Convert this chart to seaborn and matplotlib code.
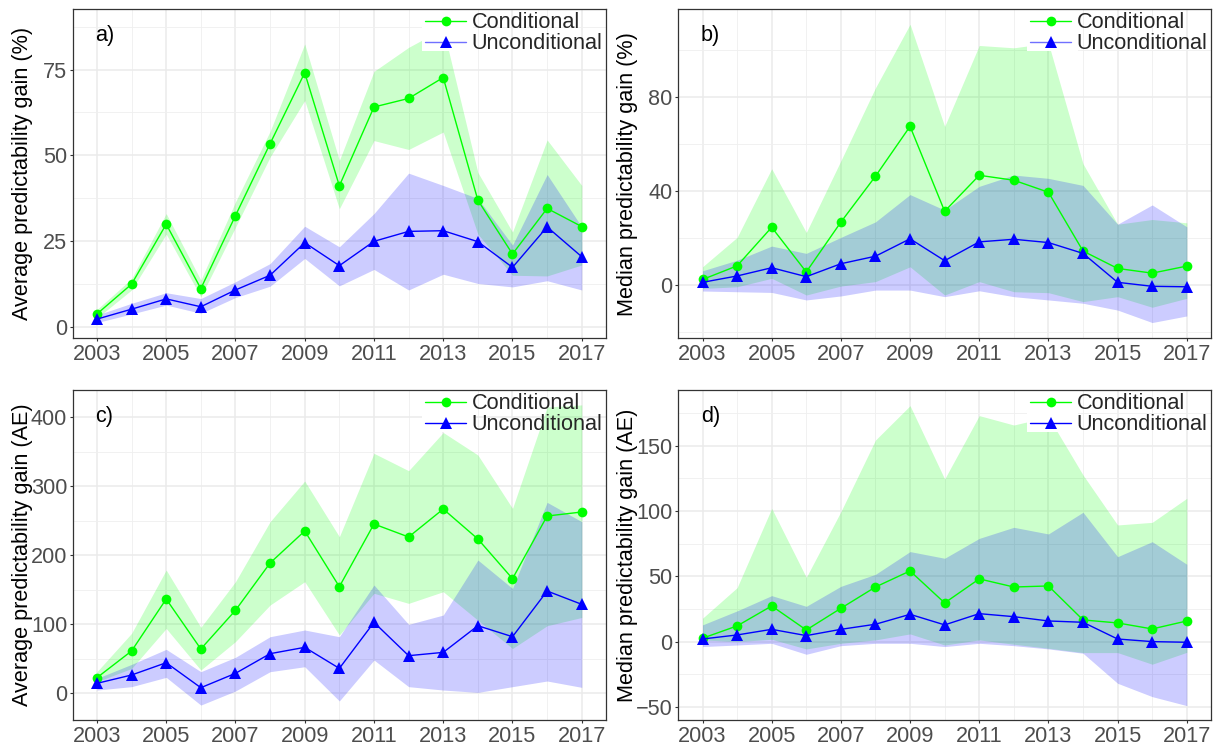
import matplotlib
matplotlib.use("Agg")
import matplotlib.pyplot as plt
from matplotlib.lines import Line2D
from matplotlib.patches import Rectangle
from matplotlib.ticker import MultipleLocator
import seaborn as sns
import numpy as np

# ---------------- data ----------------
years = list(range(2003, 2018))

a_cond    = [3.7, 12.4, 29.9, 11.1, 32.4, 53.4, 74.1, 41.1, 64.1, 66.6, 72.7, 36.9, 21.2, 34.5, 29.2]
a_cond_hi = [5.0, 14.0, 33.0, 13.6, 36.4, 57.0, 82.5, 48.5, 74.5, 81.5, 87.0, 45.0, 27.6, 54.5, 41.2]
a_cond_lo = [2.5, 10.7, 27.0, 8.7, 29.0, 49.5, 66.0, 34.4, 54.3, 51.7, 56.8, 27.0, 15.0, 14.8, 18.0]
a_unc     = [2.2, 5.1, 8.1, 5.8, 10.7, 15.0, 24.5, 17.8, 24.9, 27.8, 28.0, 24.8, 17.3, 29.1, 20.4]
a_unc_hi  = [3.4, 6.8, 9.9, 8.2, 13.1, 18.4, 29.3, 23.3, 33.0, 44.8, 41.2, 37.4, 23.8, 44.4, 29.1]
a_unc_lo  = [1.2, 3.7, 6.3, 3.9, 8.5, 11.8, 19.9, 11.9, 16.7, 10.7, 15.3, 12.6, 11.6, 13.4, 10.7]

b_cond    = [2.5, 8.3, 24.7, 5.7, 26.9, 46.4, 67.6, 31.5, 46.8, 44.7, 39.6, 14.6, 7.2, 5.2, 8.2]
b_cond_hi = [7.9, 20.4, 49.6, 22.5, 53.0, 84.0, 111.0, 67.6, 102.0, 101.0, 103.0, 51.7, 26.0, 28.0, 26.6]
b_cond_lo = [-1.3, -0.6, 3.0, -4.1, -0.3, 1.6, 7.9, -4.1, 1.6, -2.7, -3.1, -6.9, -4.8, -9.3, -5.5]
b_unc     = [1.3, 4.0, 7.5, 3.7, 9.2, 12.4, 19.8, 10.5, 18.5, 19.6, 18.2, 13.6, 1.3, -0.4, -0.6]
b_unc_hi  = [6.2, 10.7, 16.7, 13.6, 20.4, 27.0, 38.6, 32.0, 42.1, 46.9, 45.5, 42.5, 26.0, 34.2, 24.9]
b_unc_lo  = [-2.4, -2.7, -3.0, -6.2, -4.5, -2.0, -2.0, -4.8, -2.3, -4.8, -6.2, -7.6, -10.5, -15.8, -13.0]

c_cond    = [22.7, 61.4, 136.7, 64.3, 120.3, 188.9, 235.3, 154.6, 245.4, 226.6, 267.1, 223.7, 166.2, 257.0, 262.8]
c_cond_hi = [31.4, 87.0, 178.7, 95.7, 161.8, 248.8, 307.7, 227.0, 347.8, 322.7, 378.0, 345.4, 268.0, 415.0, 418.0]
c_cond_lo = [17.0, 36.0, 94.0, 33.8, 75.0, 128.0, 161.8, 84.5, 145.0, 130.4, 147.3, 106.0, 65.0, 98.0, 110.0]
c_unc     = [14.5, 26.6, 44.4, 8.2, 29.0, 57.5, 66.7, 36.2, 102.9, 54.6, 59.4, 98.0, 82.1, 148.3, 129.0]
c_unc_hi  = [21.7, 42.0, 63.8, 31.4, 52.2, 82.1, 91.8, 82.1, 157.0, 100.0, 113.5, 193.2, 152.0, 276.8, 248.8]
c_unc_lo  = [4.8, 9.7, 23.2, -17.0, 3.4, 31.4, 38.6, -11.0, 48.3, 9.7, 4.8, 1.4, 9.7, 17.9, 8.7]

d_cond    = [2.6, 12.0, 27.3, 8.9, 25.5, 41.8, 54.1, 29.6, 48.0, 41.8, 42.6, 16.6, 14.3, 9.7, 15.8]
d_cond_hi = [17.9, 41.3, 102.0, 49.2, 99.5, 154.3, 180.6, 124.5, 173.0, 165.8, 172.0, 127.6, 89.3, 91.3, 109.7]
d_cond_lo = [1.3, 0.0, 1.8, -5.6, -1.3, 1.3, 5.9, -2.6, 1.3, -2.0, -5.1, -8.4, -8.4, -17.3, -8.2]
d_unc     = [2.0, 5.1, 9.4, 4.6, 9.4, 13.3, 20.9, 12.8, 21.4, 19.1, 15.8, 14.8, 2.0, 0.0, -0.5]
d_unc_hi  = [12.8, 23.5, 35.2, 27.0, 42.3, 51.5, 68.9, 63.8, 79.0, 87.5, 82.4, 99.0, 65.0, 76.5, 59.2]
d_unc_lo  = [-3.8, -2.6, -1.3, -9.7, -3.1, -1.3, -1.3, -3.8, -1.3, -3.1, -5.6, -8.9, -31.9, -42.1, -49.0]

panel_labels = ["a)", "b)", "c)", "d)"]
y_titles = ["Average predictability gain (%)", "Median predictability gain (%)",
            "Average predictability gain (AE)", "Median predictability gain (AE)"]
series_names = ["Conditional", "Unconditional"]
x_ticks = [2003, 2005, 2007, 2009, 2011, 2013, 2015, 2017]

# ---------------- style ----------------
sns.set_style("white")
plt.rcParams['font.family'] = ['Liberation Sans', 'DejaVu Sans']

GREEN = "#00FF00"
BLUE = "#0000FF"
FS = 15.6

fig = plt.figure(figsize=(12.22, 7.45), dpi=100)
W, H = 1222, 745

def px_axes(left, top, right, bottom):
    return fig.add_axes([left / W, 1 - bottom / H, (right - left) / W, (bottom - top) / H])

axes = [
    px_axes(72.7, 9, 606, 338.3),
    px_axes(678.3, 9, 1211, 338.3),
    px_axes(72.7, 390, 606, 720),
    px_axes(678.3, 390, 1211, 720),
]

panels = [
    (a_cond, a_cond_lo, a_cond_hi, a_unc, a_unc_lo, a_unc_hi),
    (b_cond, b_cond_lo, b_cond_hi, b_unc, b_unc_lo, b_unc_hi),
    (c_cond, c_cond_lo, c_cond_hi, c_unc, c_unc_lo, c_unc_hi),
    (d_cond, d_cond_lo, d_cond_hi, d_unc, d_unc_lo, d_unc_hi),
]
ylims = [(-3.4, 92.7), (-22.5, 117.5), (-38.6, 439.6), (-60, 192.6)]
major_steps = [25, 40, 100, 50]
legend_unc_line = ["#7070FF", "#7070FF", BLUE, BLUE]

for i, ax in enumerate(axes):
    cm, clo, chi, um, ulo, uhi = panels[i]
    ax.set_facecolor("white")
    ax.fill_between(years, clo, chi, color=GREEN, alpha=0.2, linewidth=0, zorder=2)
    ax.fill_between(years, ulo, uhi, color=BLUE, alpha=0.2, linewidth=0, zorder=2)
    sns.lineplot(x=years, y=cm, ax=ax, color=GREEN, marker="o", markersize=7,
                 markeredgewidth=0, linewidth=1.0, zorder=4, legend=False)
    sns.lineplot(x=years, y=um, ax=ax, color=BLUE, marker="^", markersize=8,
                 markeredgewidth=0, linewidth=1.0, zorder=4, legend=False)

    ax.set_xlim(2002.3, 2017.7)
    ax.set_ylim(*ylims[i])
    ax.set_xticks(x_ticks)
    ax.set_xticklabels([str(t) for t in x_ticks])
    ax.xaxis.set_minor_locator(MultipleLocator(1))
    ax.yaxis.set_major_locator(MultipleLocator(major_steps[i]))
    ax.yaxis.set_minor_locator(MultipleLocator(major_steps[i] / 2))
    ax.grid(True, which="major", color="#EBEBEB", linewidth=1.1, zorder=0)
    ax.grid(True, which="minor", color="#EFEFEF", linewidth=0.6, zorder=0)
    ax.set_axisbelow(True)
    ax.tick_params(axis="both", which="major", length=2.5, width=0.8, color="#333333",
                   labelsize=FS, labelcolor="#4D4D4D", pad=1.5, direction="out",
                   bottom=True, left=True)
    ax.tick_params(axis="both", which="minor", length=0)
    for s in ax.spines.values():
        s.set_color("#333333")
        s.set_linewidth(0.9)
        s.set_zorder(6)
    ax.set_xlabel("")
    ax.set_ylabel(y_titles[i], fontsize=FS, color="black")
    ax.yaxis.set_label_coords(-0.075, 0.5)

    ax.text(0.042, 0.92, panel_labels[i], transform=ax.transAxes, fontsize=FS,
            ha="left", va="center", color="black", zorder=7)

    # white legend-key background (keys only, legend background transparent)
    ax.add_patch(Rectangle((0.655, 0.872), 0.096, 0.128, transform=ax.transAxes,
                           facecolor="white", edgecolor="none", zorder=3))

    handles = [
        Line2D([0], [0], color=GREEN, lw=1.0, marker="o", markersize=7, markeredgewidth=0),
        Line2D([0], [0], color=legend_unc_line[i], lw=1.0, marker="^", markersize=8,
               markerfacecolor=BLUE, markeredgewidth=0),
    ]
    leg = ax.legend(handles, series_names, loc="upper right", bbox_to_anchor=(1.0, 1.0),
                    frameon=False, fontsize=FS, handlelength=1.9, handletextpad=0.25,
                    borderpad=0.1, borderaxespad=0.05, labelspacing=0.0)
    leg.set_zorder(8)

fig.savefig("out.png", dpi=100)
